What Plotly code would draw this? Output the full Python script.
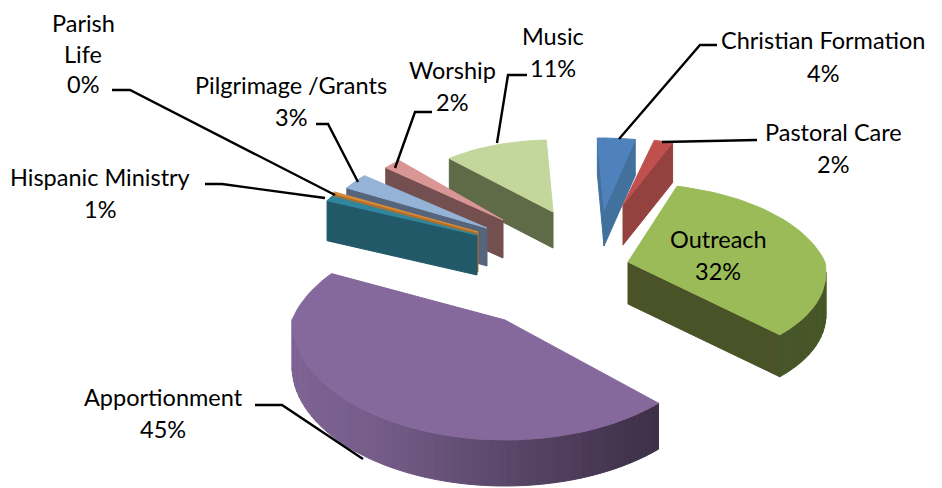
import numpy as np
import plotly.graph_objects as go

# ---- data ----
categories = ["Christian Formation", "Pastoral Care", "Outreach", "Apportionment",
              "Hispanic Ministry", "Parish Life", "Pilgrimage /Grants", "Worship", "Music"]
values = [4, 2, 32, 45, 1, 0.3, 3, 2, 11]   # Parish Life estimated, it prints as 0%

# ---- styles ----
top_colors = ["#4f81bd", "#c0504d", "#9bbb59", "#85699c", "#31859c", "#d98a3a", "#95b3d7", "#d99694", "#c3d69b"]
wall_colors = ["#41719c", "#94423f", "#4a5228", "#3b2e4b", "#215968", "#b0702a", "#56657b", "#73504f", "#5f6b47"]

# ---- projection of each exploded slice (pixels) ----
START_ANGLE = -2.5
apex_x = [604, 623, 628, 505, 477, 478, 487, 503, 553]
apex_y = [210, 205, 262, 320, 235, 232, 228, 220, 212]
radius_x = [152, 152, 197, 213, 166, 166, 162, 155, 155]
radius_y = [72, 66, 105, 120, 80, 80, 80, 80, 72]
back_shrink = [0, 0, 0.25, 0.23, 0, 0, 0, 0, 0]
front_grow_x = [0, 0, 0.1, 0, 0, 0, 0, 0, 0]
depth = [36, 40, 42, 46, 40, 40, 38, 38, 36]
draw_order = [8, 7, 6, 5, 4, 0, 1, 2, 3]

labels = [
    (["Christian Formation", "4%"], 823, [40, 73]),
    (["Pastoral Care", "2%"], 833, [132, 164]),
    (["Outreach", "32%"], 718, [239, 271]),
    (["Apportionment", "45%"], 163, [397, 429]),
    (["Hispanic Ministry", "1%"], 100, [177, 209]),
    (["Parish", "Life", "0%"], 83, [23, 54, 84]),
    (["Pilgrimage /Grants", "3%"], 291, [85, 117]),
    (["Worship", "2%"], 452, [70, 102]),
    (["Music", "11%"], 553, [36, 68]),
]
leaders = [
    [(717, 45), (700, 45), (619, 139)],
    [(757, 140), (662, 142)],
    [(527, 75), (508, 75), (497, 143)],
    [(432, 112), (415, 112), (395, 168)],
    [(316, 124), (328, 124), (358, 182)],
    [(112, 90), (130, 90), (335, 195)],
    [(205, 184), (222, 184), (325, 198)],
    [(255, 405), (282, 405), (363, 459)],
]


def shade(hex_color, f):
    rgb = [int(hex_color[i:i + 2], 16) for i in (1, 3, 5)]
    return "rgb({},{},{})".format(*[int(min(255, c * f)) for c in rgb])


def project(i, theta_deg):
    t = np.radians(theta_deg)
    c = np.cos(t)
    k = 1 - back_shrink[i] * np.maximum(c, 0)
    kx = k - front_grow_x[i] * np.minimum(c, 0)
    return apex_x[i] + radius_x[i] * kx * np.sin(t), apex_y[i] - radius_y[i] * k * c


def poly(xs, ys, color):
    return go.Scatter(x=list(xs) + [xs[0]], y=list(ys) + [ys[0]], mode="lines", fill="toself",
                      fillcolor=color, line=dict(color=color, width=1),
                      hoverinfo="skip", showlegend=False)


total = sum(values)
edges = START_ANGLE + np.cumsum([0] + values) / total * 360
fig = go.Figure()

for i in draw_order:
    a0, a1 = edges[i], edges[i + 1]
    n = max(2, int((a1 - a0) / 2.5) + 1)
    th = np.linspace(a0, a1, n)
    ax, ay = project(i, th)
    px = np.concatenate([[apex_x[i]], ax])
    py = np.concatenate([[apex_y[i]], ay])
    d = depth[i]
    m = len(px)
    for j in range(m):
        k = (j + 1) % m
        if px[k] - px[j] < 0:  # wall faces the viewer
            is_arc = j != 0 and k != 0
            if is_arc:
                s = np.sin(np.radians((th[j - 1] + th[k - 1]) / 2))
                f = np.interp(s, [-1, -0.6, 0, 0.7, 1], [0.95, 0.88, 0.68, 0.46, 0.46])
                col = shade(top_colors[i], f)
            else:
                col = wall_colors[i]
            fig.add_trace(poly([px[j], px[k], px[k], px[j]],
                               [py[j], py[k], py[k] + d, py[j] + d], col))
    fig.add_trace(poly(px, py, top_colors[i]))

for pts in leaders:
    fig.add_trace(go.Scatter(x=[p[0] for p in pts], y=[p[1] for p in pts], mode="lines",
                             line=dict(color="black", width=2.4), hoverinfo="skip", showlegend=False))

annotations = []
for lines, x, ys in labels:
    for txt, y in zip(lines, ys):
        annotations.append(dict(x=x, y=y, text=txt, showarrow=False, xanchor="center", yanchor="middle",
                                font=dict(family="Lato, Carlito, sans-serif", size=23.5, color="black")))

# the page keeps an 8 px body margin, so the figure is 8 px smaller and its axes start at 8
fig.update_layout(
    width=934, height=480, margin=dict(l=0, r=0, t=0, b=0),
    paper_bgcolor="white", plot_bgcolor="white", showlegend=False,
    xaxis=dict(range=[8, 942], visible=False, fixedrange=True),
    yaxis=dict(range=[488, 8], visible=False, fixedrange=True),
    annotations=annotations,
)
fig.write_html("out.html", config={"displayModeBar": False})
